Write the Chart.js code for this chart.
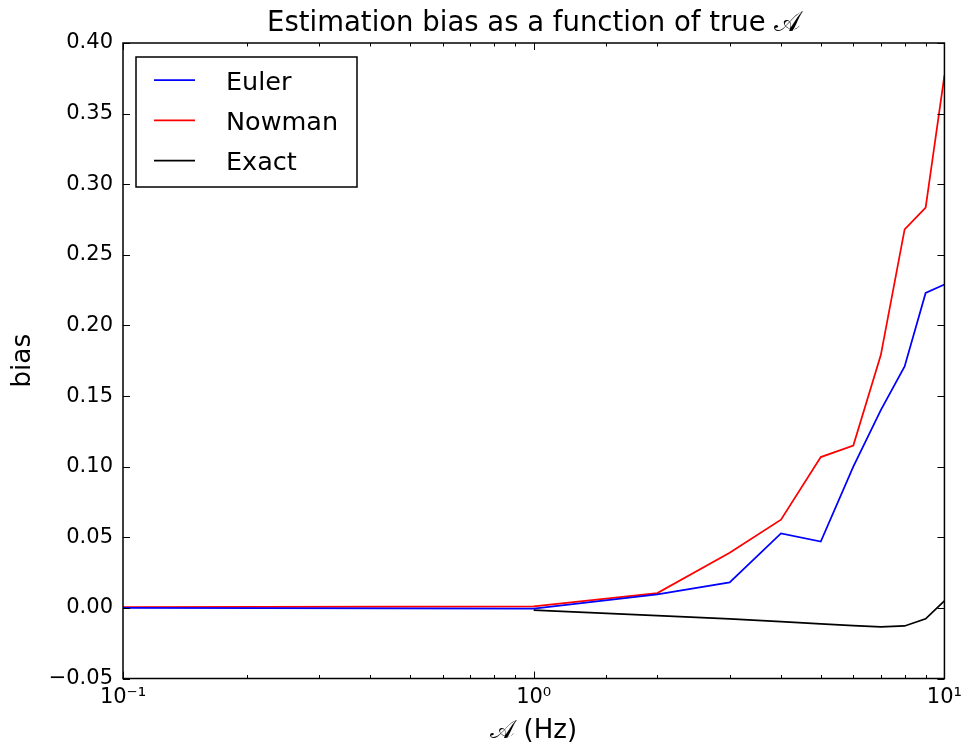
<!DOCTYPE html>
<html><head><meta charset="utf-8">
<script src="https://cdn.jsdelivr.net/npm/chart.js@4.4.0/dist/chart.umd.min.js"></script>
<style>html,body{margin:0;padding:0;background:#fff;} #wrap{width:968px;height:747px;position:relative;}</style>
</head><body><div id="wrap"><canvas id="c"></canvas></div>
<script>
const xEulerNowman = [0.1, 1, 2, 3, 4, 5, 6, 7, 8, 9, 10];
const eulerBias  = [0.0, -0.0005, 0.0095, 0.018, 0.0527, 0.047, 0.100, 0.140, 0.171, 0.223, 0.229];
const nowmanBias = [0.0005, 0.001, 0.0105, 0.039, 0.0625, 0.1068, 0.115, 0.179, 0.268, 0.2835, 0.377];
const xExact = [1, 2, 3, 4, 5, 6, 7, 8, 9, 10];
const exactBias = [-0.0015, -0.0055, -0.0078, -0.0097, -0.0113, -0.0126, -0.0135, -0.0128, -0.0077, 0.005];
const seriesNames = ['Euler', 'Nowman', 'Exact'];
const seriesColors = ['#0000ff', '#ff0000', '#000000'];
const xMajorLabels = { '0.1': '10⁻¹', '1': '10⁰', '10': '10¹' };
const titleText = 'Estimation bias as a function of true 𝒜';
const xLabel = '𝒜 (Hz)';
const yLabel = 'bias';

const FONT = "'DejaVu Sans', sans-serif";
const pts = (xs, ys) => xs.map((x, i) => ({ x: x, y: ys[i] }));

const frame = {
  id: 'frame',
  afterDatasetsDraw(chart) {
    const { ctx, chartArea: a, scales: { x, y } } = chart;
    ctx.save();
    ctx.strokeStyle = '#000';
    ctx.lineWidth = 1;
    x.ticks.forEach(t => {
      const v = t.value;
      const lg = Math.log10(v);
      const major = Math.abs(lg - Math.round(lg)) < 1e-6;
      const L = major ? 7 : 3.5;
      const px = Math.round(x.getPixelForValue(v)) + 0.5;
      ctx.beginPath();
      ctx.moveTo(px, a.bottom); ctx.lineTo(px, a.bottom - L);
      ctx.moveTo(px, a.top); ctx.lineTo(px, a.top + L);
      ctx.stroke();
    });
    y.ticks.forEach(t => {
      const py = Math.round(y.getPixelForValue(t.value)) + 0.5;
      ctx.beginPath();
      ctx.moveTo(a.left, py); ctx.lineTo(a.left + 7, py);
      ctx.moveTo(a.right, py); ctx.lineTo(a.right - 7, py);
      ctx.stroke();
    });
    ctx.lineWidth = 1.5;
    ctx.strokeRect(a.left, a.top, a.right - a.left, a.bottom - a.top);

    // legend
    const lx = a.left + 13, ly = a.top + 14, lw = 221, lh = 130;
    ctx.fillStyle = '#fff';
    ctx.fillRect(lx, ly, lw, lh);
    ctx.lineWidth = 1.5;
    ctx.strokeRect(lx, ly, lw, lh);
    ctx.font = '25.5px ' + FONT;
    ctx.textBaseline = 'alphabetic';
    ctx.textAlign = 'left';
    chart.data.datasets.forEach((ds, i) => {
      const ry = ly + 23 + i * 40.3;
      ctx.strokeStyle = ds.borderColor;
      ctx.lineWidth = 1.75;
      ctx.beginPath();
      ctx.moveTo(lx + 18, ry); ctx.lineTo(lx + 59, ry);
      ctx.stroke();
      ctx.fillStyle = '#000';
      ctx.fillText(ds.label, lx + 90, ry + 9.5);
    });
    ctx.restore();
  }
};

const mk = (label, data, color) => ({
  label, data, borderColor: color, backgroundColor: color,
  borderWidth: 1.75, pointRadius: 0, showLine: true, tension: 0, fill: false
});

new Chart(document.getElementById('c'), {
  type: 'scatter',
  data: {
    datasets: [
      mk(seriesNames[0], pts(xEulerNowman, eulerBias), seriesColors[0]),
      mk(seriesNames[1], pts(xEulerNowman, nowmanBias), seriesColors[1]),
      mk(seriesNames[2], pts(xExact, exactBias), seriesColors[2])
    ]
  },
  options: {
    responsive: true,
    maintainAspectRatio: false,
    animation: false,
    layout: { padding: { left: 0, right: 22, top: 0, bottom: 0 } },
    plugins: {
      legend: { display: false },
      tooltip: { enabled: false },
      title: {
        display: true, text: titleText, color: '#000', fullSize: false,
        font: { family: FONT, size: 27.5, weight: 'normal', lineHeight: 1.2 },
        padding: { top: 7, bottom: 3 }
      }
    },
    scales: {
      x: {
        type: 'logarithmic', min: 0.1, max: 10,
        grid: { display: false, drawTicks: false },
        border: { display: false },
        ticks: {
          autoSkip: false, maxRotation: 0, padding: 6, color: '#000',
          font: { family: FONT, size: 21 },
          callback: (v) => {
            const k = String(Math.round(v * 1000) / 1000);
            return xMajorLabels[k] || '';
          }
        },
        title: { display: true, text: xLabel, color: '#000', font: { family: FONT, size: 26 }, padding: { top: 0, bottom: 0 } },
        afterFit: (s) => { s.height = 68.5; }
      },
      y: {
        min: -0.05, max: 0.40,
        grid: { display: false, drawTicks: false },
        border: { display: false },
        ticks: {
          stepSize: 0.05, padding: 10, color: '#000',
          font: { family: FONT, size: 21 },
          callback: (v) => v.toFixed(2).replace('-', '−')
        },
        title: { display: true, text: yLabel, color: '#000', font: { family: FONT, size: 26.5 }, padding: { top: 7, bottom: 0 } },
        afterFit: (s) => { s.width = 123; }
      }
    }
  },
  plugins: [frame]
});
</script>
</body></html>
